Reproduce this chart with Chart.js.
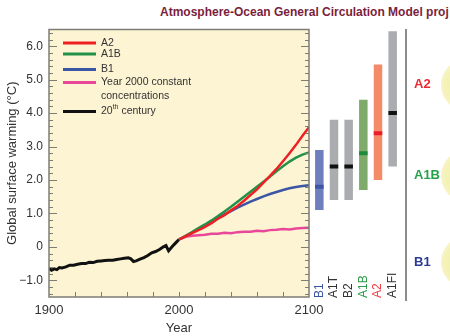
<!DOCTYPE html>
<html><head><meta charset="utf-8">
<script src="https://cdn.jsdelivr.net/npm/chart.js@4"></script>
<style>
html,body{margin:0;padding:0;background:#fff;width:450px;height:336px;overflow:hidden;position:relative;font-family:"Liberation Sans",Arial,sans-serif;}
#c1{position:absolute;left:0;top:0;}
#c2{position:absolute;left:312px;top:0;}
#title{position:absolute;left:160px;top:5px;white-space:nowrap;font-weight:bold;font-size:12px;color:#7b1e3c;}
#sep{position:absolute;left:405px;top:29px;width:1.5px;height:272px;background:#8c8c8c;}
.rl{position:absolute;left:414px;font-weight:bold;font-size:13px;line-height:16px;}
.globe{position:absolute;left:441px;width:52px;height:52px;border-radius:50%;background:radial-gradient(circle,#f3efa6 0%,#f5f2b8 60%,#faf8dc 88%,#fff 100%);}
</style></head>
<body>
<div id="title">Atmosphere-Ocean General Circulation Model proj</div>
<canvas id="c1" width="450" height="336"></canvas>
<canvas id="c2" width="138" height="336"></canvas>
<div id="sep"></div>
<div class="globe" style="top:59px"></div>
<div class="globe" style="top:150px"></div>
<div class="globe" style="top:236px"></div>
<div class="rl" style="top:76px;color:#ec2a33">A2</div>
<div class="rl" style="top:167px;color:#27a04c">A1B</div>
<div class="rl" style="top:254px;color:#2b3b94">B1</div>
<script>
// ---- data ----
const years20 = [1900,1902,1904,1906,1908,1910,1913,1916,1919,1922,1925,1928,1931,1934,1937,1940,1943,1946,1949,1952,1955,1958,1961,1963,1965,1967,1970,1973,1976,1979,1982,1985,1988,1990,1992,1994,1996,1998,2000];
const temp20  = [-0.64,-0.70,-0.66,-0.68,-0.62,-0.63,-0.60,-0.55,-0.55,-0.52,-0.50,-0.50,-0.46,-0.47,-0.43,-0.42,-0.41,-0.40,-0.40,-0.38,-0.36,-0.34,-0.33,-0.36,-0.44,-0.42,-0.37,-0.32,-0.26,-0.18,-0.14,-0.08,0.00,0.04,-0.12,-0.03,0.06,0.14,0.22];
const scenYears = [2000,2005,2010,2015,2020,2025,2030,2035,2040,2045,2050,2055,2060,2065,2070,2075,2080,2085,2090,2095,2100];
const a2Vals     = [0.22,0.31,0.41,0.50,0.60,0.71,0.84,0.95,1.09,1.22,1.38,1.55,1.72,1.92,2.12,2.33,2.56,2.80,3.05,3.32,3.58];
const a1bVals    = [0.22,0.33,0.44,0.56,0.67,0.79,0.92,1.06,1.20,1.35,1.50,1.65,1.80,1.95,2.10,2.26,2.41,2.55,2.67,2.76,2.82];
const b1Vals     = [0.22,0.32,0.42,0.53,0.63,0.75,0.86,0.97,1.07,1.17,1.26,1.35,1.43,1.51,1.58,1.64,1.70,1.75,1.79,1.82,1.84];
const commitVals = [0.22,0.30,0.33,0.35,0.36,0.39,0.39,0.42,0.41,0.44,0.45,0.45,0.48,0.47,0.50,0.51,0.53,0.52,0.55,0.56,0.57];
const seriesLabels = ['A2','A1B','B1','Year 2000 constant\nconcentrations','20th century'];
const xTickYears = [1900,2000,2100];
const yTickValues = [-1,0,1,2,3,4,5,6];
const barCats = ['B1','A1T','B2','A1B','A2','A1FI'];
const barLow  = [1.1,1.4,1.4,1.7,2.0,2.4];
const barHigh = [2.9,3.8,3.8,4.4,5.45,6.45];
const barBest = [1.8,2.4,2.4,2.8,3.4,4.0];

// ---- styles ----
const lineColors = ['#ed2024','#23914a','#3b56a5','#e9489a','#111111'];
const rangeColors = ['#6f7fbd','#abacb0','#abacb0','#7fab6a','#f48a68','#abacb0'];
const bestColors  = ['#3f56a6','#111111','#111111','#1e8a3c','#ea1d2c','#111111'];
const catColors   = ['#3a55a8','#333333','#333333','#2c9a48','#f04040','#333333'];
const FONT = '"Liberation Sans", Arial, sans-serif';
Chart.defaults.font.family = FONT;

const pts = (xs, ys) => xs.map((x, i) => ({x, y: ys[i]}));

const bgPlugin = {
  id: 'bg',
  beforeDraw(chart) {
    const {ctx, chartArea: a} = chart;
    ctx.save(); ctx.fillStyle = '#fdf4d3';
    ctx.fillRect(a.left, a.top, a.right - a.left, a.bottom - a.top);
    ctx.restore();
  }
};
const framePlugin = {
  id: 'frame',
  afterDatasetsDraw(chart) {
    const {ctx, chartArea: a, scales: {x, y}} = chart;
    ctx.save();
    ctx.strokeStyle = '#7d7d75'; ctx.lineWidth = 1;
    ctx.beginPath();
    for (let k = -7; k <= 32; k++) {
      const v = k / 5;
      const py = Math.round(y.getPixelForValue(v)) + 0.5;
      const L = (k % 5 === 0) ? 8 : 4;
      ctx.moveTo(a.left, py); ctx.lineTo(a.left + L, py);
      ctx.moveTo(a.right, py); ctx.lineTo(a.right - L, py);
    }
    for (let yr = 1920; yr < 2100; yr += 20) {
      const px = Math.round(x.getPixelForValue(yr)) + 0.5;
      ctx.moveTo(px, a.bottom); ctx.lineTo(px, a.bottom - 5);
    }
    ctx.stroke();
    ctx.lineWidth = 1.5; ctx.strokeStyle = '#7d7d75';
    ctx.strokeRect(a.left, a.top, a.right - a.left, a.bottom - a.top);
    ctx.restore();
  }
};
const legendPlugin = {
  id: 'legendIn',
  afterDatasetsDraw(chart) {
    const {ctx, chartArea: a} = chart;
    const offs = [13.5, 24.5, 40, 53, 82];
    ctx.save();
    ctx.font = '10.5px ' + FONT; ctx.fillStyle = '#333'; ctx.textBaseline = 'middle';
    chart.data.datasets.forEach((ds, i) => {
      const y = a.top + offs[i];
      ctx.strokeStyle = ds.borderColor; ctx.lineWidth = 3;
      ctx.beginPath(); ctx.moveTo(a.left + 14, y); ctx.lineTo(a.left + 47, y); ctx.stroke();
      const tx = a.left + 52;
      const m = ds.label.match(/^(\d+)(th)(.*)$/);
      if (m) {
        ctx.fillText(m[1], tx, y);
        const w1 = ctx.measureText(m[1]).width;
        ctx.font = '7px ' + FONT; ctx.fillText(m[2], tx + w1, y - 4);
        const w2 = ctx.measureText(m[2]).width;
        ctx.font = '10.5px ' + FONT; ctx.fillText(m[3], tx + w1 + w2, y);
      } else {
        ds.label.split('\n').forEach((t, j) => ctx.fillText(t, tx, y + j * 14));
      }
    });
    ctx.restore();
  }
};

const allY = [a2Vals, a1bVals, b1Vals, commitVals];
new Chart(document.getElementById('c1'), {
  type: 'line',
  data: {
    datasets: [
      ...allY.map((vals, i) => ({label: seriesLabels[i], data: pts(scenYears, vals), borderColor: lineColors[i], borderWidth: 2.5, pointRadius: 0, tension: 0})),
      {label: seriesLabels[4], data: pts(years20, temp20), borderColor: lineColors[4], borderWidth: 3, pointRadius: 0, tension: 0}
    ]
  },
  options: {
    responsive: false, animation: false, devicePixelRatio: 1,
    layout: {padding: {top: 29.5, right: 141, bottom: 0, left: 0}},
    plugins: {legend: {display: false}, tooltip: {enabled: false}},
    scales: {
      x: {
        type: 'linear', min: 1900, max: 2100,
        afterBuildTicks: s => { s.ticks = xTickYears.map(v => ({value: v})); },
        afterFit: s => { s.height = 39; },
        ticks: {font: {size: 13}, color: '#333', padding: 6, maxRotation: 0, autoSkip: false, callback: v => String(v)},
        grid: {display: false, drawTicks: false}, border: {display: false},
        title: {display: true, text: 'Year', font: {size: 13}, color: '#333', padding: {top: 0, bottom: 0}}
      },
      y: {
        min: -1.5, max: 6.5,
        afterBuildTicks: s => { s.ticks = yTickValues.map(v => ({value: v})); },
        afterFit: s => { s.width = 49; },
        ticks: {font: {size: 12}, color: '#333', padding: 6, callback: v => v === 0 ? '0' : (v < 0 ? '\u2212' : '') + Math.abs(v).toFixed(1)},
        grid: {display: false, drawTicks: false}, border: {display: false},
        title: {display: true, text: 'Global surface warming (°C)', font: {size: 13}, color: '#333', padding: {top: 5, bottom: 0}}
      }
    }
  },
  plugins: [bgPlugin, framePlugin, legendPlugin]
});

const catLabelPlugin = {
  id: 'catLabels',
  afterDraw(chart) {
    const {ctx, chartArea: a, scales: {x}} = chart;
    ctx.save();
    ctx.font = '12px ' + FONT;
    chart.data.labels.forEach((lab, i) => {
      const px = x.getPixelForValue(i);
      ctx.save(); ctx.translate(px, a.bottom + 1); ctx.rotate(-Math.PI / 2);
      ctx.textAlign = 'left'; ctx.textBaseline = 'middle'; ctx.fillStyle = catColors[i];
      ctx.fillText(lab, 0, 0); ctx.restore();
    });
    ctx.restore();
  }
};
new Chart(document.getElementById('c2'), {
  type: 'bar',
  data: {
    labels: barCats,
    datasets: [
      {label: 'best', data: barBest.map(b => [b - 0.06, b + 0.06]), backgroundColor: bestColors, borderWidth: 0},
      {label: 'range', data: barLow.map((l, i) => [l, barHigh[i]]), backgroundColor: rangeColors, borderWidth: 0}
    ]
  },
  options: {
    responsive: false, animation: false, devicePixelRatio: 1,
    layout: {padding: {top: 29.5, right: 50, bottom: 39, left: 0}},
    plugins: {legend: {display: false}, tooltip: {enabled: false}},
    datasets: {bar: {grouped: false, barPercentage: 0.58, categoryPercentage: 1}},
    scales: {
      x: {display: false},
      y: {display: false, min: -1.5, max: 6.5}
    }
  },
  plugins: [catLabelPlugin]
});
</script>
</body></html>
